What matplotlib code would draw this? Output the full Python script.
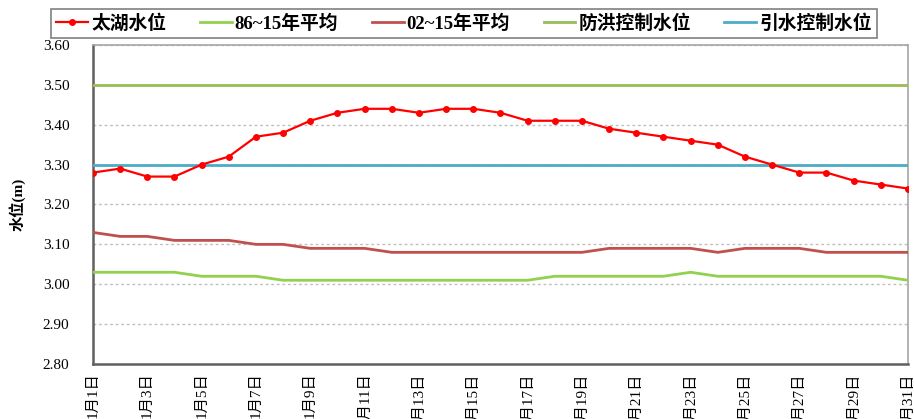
import numpy as np
import matplotlib
matplotlib.use("Agg")
from matplotlib import pyplot as plt

plt.rcParams['font.family'] = ['Liberation Serif', 'Noto Sans CJK SC']

days = list(range(1, 32))
tick_labels = [f"1月{d}日" for d in days]

taihu = [3.28, 3.29, 3.27, 3.27, 3.30, 3.32, 3.37, 3.38, 3.41, 3.43, 3.44,
         3.44, 3.43, 3.44, 3.44, 3.43, 3.41, 3.41, 3.41, 3.39, 3.38, 3.37,
         3.36, 3.35, 3.32, 3.30, 3.28, 3.28, 3.26, 3.25, 3.24]
avg_86_15 = [3.03, 3.03, 3.03, 3.03, 3.02, 3.02, 3.02, 3.01, 3.01, 3.01, 3.01,
             3.01, 3.01, 3.01, 3.01, 3.01, 3.01, 3.02, 3.02, 3.02, 3.02, 3.02,
             3.03, 3.02, 3.02, 3.02, 3.02, 3.02, 3.02, 3.02, 3.01]
avg_02_15 = [3.13, 3.12, 3.12, 3.11, 3.11, 3.11, 3.10, 3.10, 3.09, 3.09, 3.09,
             3.08, 3.08, 3.08, 3.08, 3.08, 3.08, 3.08, 3.08, 3.09, 3.09, 3.09,
             3.09, 3.08, 3.09, 3.09, 3.09, 3.08, 3.08, 3.08, 3.08]
flood_level = 3.50
diversion_level = 3.30

fig = plt.figure(figsize=(9.14, 4.19), dpi=100)
ax = fig.add_axes([0.1017, 0.1313, 0.8917, 0.7613])

# grid first so the lines sit on top
for y in np.arange(2.9, 3.6, 0.1):
    ax.axhline(y, color='#bfbfbf', lw=1, ls=(0, (2, 2)), zorder=1)

l1, = ax.plot(days, taihu, color='#ff0000', lw=1.6, marker='o', ms=4,
              label='太湖水位', zorder=5)
l2, = ax.plot(days, avg_86_15, color='#92d050', lw=2, label='86~15年平均', zorder=3)
l3, = ax.plot(days, avg_02_15, color='#c0504d', lw=2, label='02~15年平均', zorder=3)
l4, = ax.plot(days, [flood_level] * len(days), color='#9bbb59', lw=2,
              label='防洪控制水位', zorder=3)
l5, = ax.plot(days, [diversion_level] * len(days), color='#4bacc6', lw=2,
              label='引水控制水位', zorder=3)

ax.set_xlim(1, 31)
ax.set_ylim(2.80, 3.60)
ax.set_yticks(np.arange(2.8, 3.61, 0.1))
ax.set_yticklabels([f"{v:.2f}" for v in np.arange(2.8, 3.61, 0.1)], fontsize=11)
ax.set_xticks(days[::2])
ax.set_xticklabels(tick_labels[::2], rotation=90, fontsize=11, va='top')
ax.tick_params(axis='both', length=0, pad=6)
ax.tick_params(axis='y', pad=17)

for s in ['top', 'right']:
    ax.spines[s].set_color('#a6a6a6')
    ax.spines[s].set_linewidth(1.2)
for s in ['left', 'bottom']:
    ax.spines[s].set_color('#606060')
    ax.spines[s].set_linewidth(1.8)

ax.set_ylabel('水位(m)', fontsize=11, fontweight='bold', labelpad=12)

leg = fig.legend(handles=[l1, l2, l3, l4, l5], loc='center',
                 bbox_to_anchor=(464 / 914, 1 - 23.5 / 419),
                 ncol=5, frameon=True, fancybox=False,
                 handlelength=1.7, handletextpad=0.15, borderaxespad=0,
                 columnspacing=1.8, borderpad=0.3,
                 prop={'family': ['Liberation Serif', 'Noto Sans CJK SC'],
                       'weight': 'bold', 'size': 13.5})
leg.get_frame().set_edgecolor('#606060')
leg.get_frame().set_linewidth(1.2)

fig.savefig('out.png', dpi=100)
